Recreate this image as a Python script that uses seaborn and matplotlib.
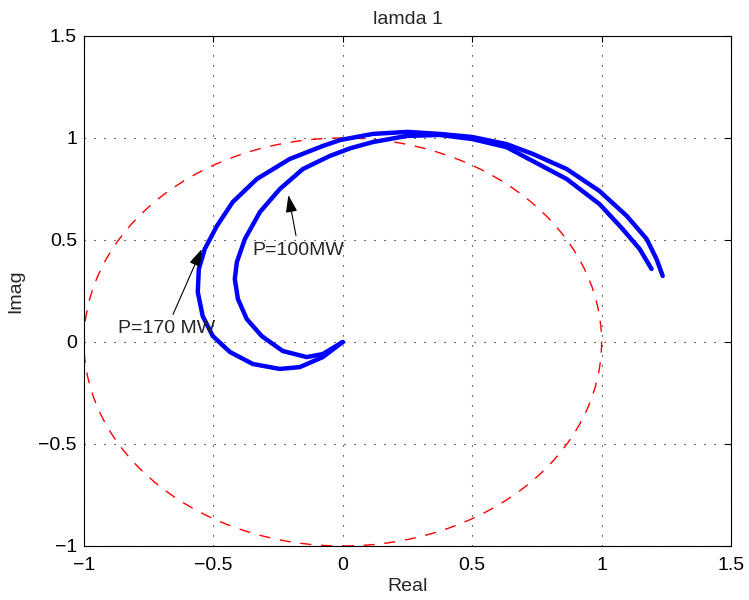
import matplotlib
matplotlib.use('Agg')
import matplotlib.pyplot as plt
import seaborn as sns
import pandas as pd
from matplotlib.patches import Circle

# spiral traced for P=100 MW (inner curve)
re_100 = [0.0, -0.077, -0.139, -0.232, -0.313, -0.371, -0.405, -0.417, -0.409, -0.378,
          -0.320, -0.243, -0.154, -0.050, 0.030, 0.116, 0.247, 0.375, 0.500, 0.633,
          0.734, 0.865, 0.992, 1.081, 1.147, 1.193]
im_100 = [0.0, -0.059, -0.074, -0.044, 0.029, 0.113, 0.211, 0.309, 0.392, 0.505,
          0.637, 0.750, 0.848, 0.912, 0.950, 0.980, 1.010, 1.015, 0.995, 0.955,
          0.887, 0.799, 0.676, 0.554, 0.456, 0.358]

# spiral traced for P=170 MW (outer curve)
re_170 = [0.0, -0.077, -0.166, -0.243, -0.347, -0.436, -0.502, -0.541, -0.560, -0.556,
          -0.533, -0.486, -0.425, -0.332, -0.205, -0.077, -0.010, 0.116, 0.250, 0.375,
          0.500, 0.633, 0.734, 0.865, 0.992, 1.097, 1.174, 1.212, 1.236]
im_170 = [0.0, -0.074, -0.123, -0.132, -0.108, -0.049, 0.029, 0.127, 0.245, 0.358,
          0.456, 0.569, 0.686, 0.799, 0.897, 0.961, 0.990, 1.020, 1.030, 1.020,
          1.005, 0.970, 0.922, 0.848, 0.740, 0.618, 0.505, 0.407, 0.324]

unit_radius = 1.0

df = pd.concat([
    pd.DataFrame({'Real': re_100, 'Imag': im_100, 'case': 'P=100MW'}),
    pd.DataFrame({'Real': re_170, 'Imag': im_170, 'case': 'P=170 MW'}),
])

sns.set_style('white')
plt.rcParams['font.family'] = ['Liberation Sans', 'DejaVu Sans']

fig = plt.figure(figsize=(7.49, 6.0), dpi=100)
ax = fig.add_axes([0.112, 0.09, 0.864, 0.85])

# unit circle, red dashed
ax.add_patch(Circle((0, 0), unit_radius, fill=False, edgecolor='red',
                    linewidth=1.0, linestyle=(0, (8, 7))))

sns.lineplot(data=df, x='Real', y='Imag', units='case', estimator=None, sort=False,
             color='blue', linewidth=3.2, ax=ax, legend=False,
             solid_joinstyle='round', solid_capstyle='round')

arrow = dict(arrowstyle='-|>,head_length=0.75,head_width=0.25',
             color='black', lw=0.8, shrinkA=2, shrinkB=0)
ax.annotate('P=100MW', xy=(-0.21, 0.72), xytext=(-0.17, 0.45),
            ha='center', va='center', fontsize=14, arrowprops=arrow)
ax.annotate('P=170 MW', xy=(-0.545, 0.455), xytext=(-0.68, 0.065),
            ha='center', va='center', fontsize=14, arrowprops=arrow)

ax.set_xlim(-1, 1.5)
ax.set_ylim(-1, 1.5)
ticks = [-1, -0.5, 0, 0.5, 1, 1.5]
labels = ['−1', '−0.5', '0', '0.5', '1', '1.5']
ax.set_xticks(ticks)
ax.set_yticks(ticks)
ax.set_xticklabels(labels)
ax.set_yticklabels(labels)
ax.tick_params(direction='in', top=True, right=True, length=4, width=0.8,
               labelsize=14, colors='black')
ax.tick_params(axis='x', pad=8)
ax.tick_params(axis='y', pad=5)
ax.grid(True, color='black', linestyle=(0, (1, 8)), linewidth=0.8)
for s in ax.spines.values():
    s.set_color('black')
    s.set_linewidth(0.8)

ax.set_xlabel('Real', fontsize=14, labelpad=3)
ax.set_ylabel('Imag', fontsize=14, labelpad=10)
ax.set_title('lamda 1', fontsize=14, pad=9)

fig.savefig('out.png', dpi=100)
